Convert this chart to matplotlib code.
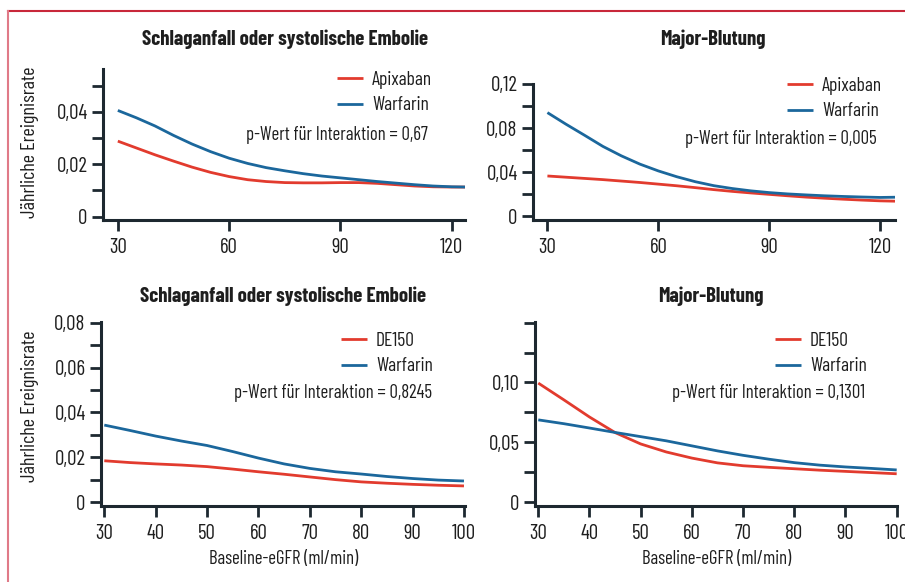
import matplotlib
matplotlib.use("Agg")
import matplotlib.pyplot as plt
from matplotlib.lines import Line2D
from matplotlib.ticker import FuncFormatter, MultipleLocator

plt.rcParams['font.family'] = ['Barlow Condensed', 'DejaVu Sans']

# --- data ---
x_top = [30, 35, 40, 45, 50, 55, 60, 65, 70, 75, 80, 85, 90, 95, 100, 105, 110, 115, 120, 124]
stroke_apixaban = [0.0288, 0.0262, 0.0236, 0.0212, 0.0189, 0.0169, 0.0153, 0.0141, 0.0134, 0.0130,
                   0.0129, 0.0129, 0.0130, 0.0130, 0.0127, 0.0122, 0.0117, 0.0114, 0.0113, 0.0113]
stroke_warfarin_a = [0.0405, 0.0377, 0.0346, 0.0310, 0.0277, 0.0248, 0.0223, 0.0203, 0.0187, 0.0175,
                     0.0164, 0.0155, 0.0148, 0.0141, 0.0134, 0.0128, 0.0122, 0.0117, 0.0114, 0.0113]
bleed_apixaban = [0.0364, 0.0353, 0.0342, 0.0331, 0.0318, 0.0305, 0.0290, 0.0275, 0.0258, 0.0240,
                  0.0224, 0.0210, 0.0197, 0.0184, 0.0172, 0.0162, 0.0153, 0.0145, 0.0138, 0.0135]
bleed_warfarin_a = [0.0940, 0.0835, 0.0735, 0.0633, 0.0547, 0.0472, 0.0410, 0.0357, 0.0312, 0.0276,
                    0.0250, 0.0229, 0.0213, 0.0201, 0.0192, 0.0184, 0.0178, 0.0173, 0.0169, 0.0171]

x_bottom = [30, 35, 40, 45, 50, 55, 60, 65, 70, 75, 80, 85, 90, 95, 100]
stroke_de150 = [0.0185, 0.0177, 0.0171, 0.0166, 0.0159, 0.0148, 0.0136, 0.0125, 0.0113, 0.0101,
                0.0091, 0.0085, 0.0080, 0.0076, 0.0073]
stroke_warfarin_d = [0.0344, 0.0320, 0.0295, 0.0273, 0.0253, 0.0226, 0.0197, 0.0171, 0.0151, 0.0136,
                     0.0126, 0.0115, 0.0106, 0.0099, 0.0095]
bleed_de150 = [0.0995, 0.0855, 0.0712, 0.0582, 0.0487, 0.0420, 0.0369, 0.0329, 0.0305, 0.0292,
               0.0280, 0.0268, 0.0258, 0.0248, 0.0238]
bleed_warfarin_d = [0.0688, 0.0656, 0.0620, 0.0583, 0.0548, 0.0513, 0.0471, 0.0429, 0.0392, 0.0360,
                    0.0331, 0.0310, 0.0295, 0.0283, 0.0270]

titles = ["Schlaganfall oder systolische Embolie", "Major-Blutung",
          "Schlaganfall oder systolische Embolie", "Major-Blutung"]
p_texts = ["p-Wert für Interaktion = 0,67", "p-Wert für Interaktion = 0,005",
           "p-Wert für Interaktion = 0,8245", "p-Wert für Interaktion = 0,1301"]

RED = "#e23b2e"
BLUE = "#1b679c"
SPINE = "#1d2830"
TXT = "#1e1e1e"

W, H = 905, 582
fig = plt.figure(figsize=(W / 100, H / 100), dpi=100)


def px_rect(left, right, bottom, top):
    return [left / W, 1 - bottom / H, (right - left) / W, (bottom - top) / H]


def comma(v, pos):
    if abs(v) < 1e-9:
        return "0"
    return f"{v:.2f}".replace(".", ",")


# (rect, xlim, ylim, xticks, major y step, minor y step, x, red series, blue series, label)
panels = [
    (px_rect(103, 465, 220, 69), (26.0, 123.6), (-0.00126, 0.0563), [30, 60, 90, 120], 0.02, 0.01,
     x_top, stroke_apixaban, stroke_warfarin_a, "Apixaban"),
    (px_rect(533, 895, 220, 84), (26.1, 124.0), (-0.0036, 0.1200), [30, 60, 90, 120], 0.04, 0.02,
     x_top, bleed_apixaban, bleed_warfarin_a, "Apixaban"),
    (px_rect(101, 465, 506, 322), (29.36, 100.2), (-0.00164, 0.0803), list(range(30, 101, 10)), 0.02, 0.01,
     x_bottom, stroke_de150, stroke_warfarin_d, "DE150"),
    (px_rect(535, 897, 506, 322), (29.36, 100.06), (-0.0031, 0.1505), list(range(30, 101, 10)), 0.05, 0.025,
     x_bottom, bleed_de150, bleed_warfarin_d, "DE150"),
]

legend_pos = [(337, 71), (787, 77), (341, 332), (775, 332)]
p_pos = [(428, 135), (877, 139), (432, 393), (865, 393)]
title_pos = [(285, 39), (713, 39), (283, 296), (711, 296)]

for i, (rect, xl, yl, xt, ymaj, ymin, xs, red, blue, name) in enumerate(panels):
    ax = fig.add_axes(rect)
    ax.plot(xs, red, color=RED, lw=2.0, label=name, solid_capstyle="butt")
    ax.plot(xs, blue, color=BLUE, lw=2.0, label="Warfarin", solid_capstyle="butt")
    ax.set_xlim(*xl)
    ax.set_ylim(*yl)
    ax.set_xticks(xt)
    ax.yaxis.set_major_locator(MultipleLocator(ymaj))
    ax.yaxis.set_minor_locator(MultipleLocator(ymin))
    ax.yaxis.set_major_formatter(FuncFormatter(comma))
    if i == 3:
        ax.set_yticks([0, 0.05, 0.10])
        ax.set_yticklabels(["0", "0,05", "0,10"])
        ax.set_yticks([0.025, 0.075, 0.125, 0.15], minor=True)
    for s in ["top", "right"]:
        ax.spines[s].set_visible(False)
    for s in ["left", "bottom"]:
        ax.spines[s].set_color(SPINE)
        ax.spines[s].set_linewidth(2.2)
    ax.tick_params(which="both", direction="out", length=8, width=2, color=SPINE,
                   labelsize=15, labelcolor=TXT)
    ax.tick_params(axis="x", pad=5)
    ax.tick_params(axis="y", pad=3)
    ax.set_facecolor("none")

    lx, ly = legend_pos[i]
    ax.legend(loc="upper left", bbox_to_anchor=(lx / W, 1 - ly / H), bbox_transform=fig.transFigure,
              frameon=False, fontsize=14, handlelength=1.35, handletextpad=0.45, labelspacing=0.38,
              borderpad=0, borderaxespad=0, labelcolor=TXT)

    px, py = p_pos[i]
    fig.text(px / W, 1 - py / H, p_texts[i], ha="right", va="center", fontsize=13.5, color=TXT)

    tx, ty = title_pos[i]
    fig.text(tx / W, 1 - ty / H, titles[i], ha="center", va="center", fontsize=15,
             fontweight="bold", color=TXT)

# axis labels
for yc in (142, 406):
    fig.text(30 / W, 1 - yc / H, "Jährliche Ereignisrate", rotation=90, ha="center", va="center",
             fontsize=14.5, color=TXT)
for xc in (284, 717):
    fig.text(xc / W, 1 - 559 / H, "Baseline-eGFR (ml/min)", ha="center", va="center",
             fontsize=13.5, color=TXT)

# red frame
fig.add_artist(Line2D([7.5 / W, 1], [1 - 11 / H, 1 - 11 / H], transform=fig.transFigure,
                      color="#c8283a", lw=1.5))
fig.add_artist(Line2D([7.5 / W, 7.5 / W], [0, 1 - 11 / H], transform=fig.transFigure,
                      color="#e07a88", lw=1.5))

fig.savefig("out.png", dpi=100)
